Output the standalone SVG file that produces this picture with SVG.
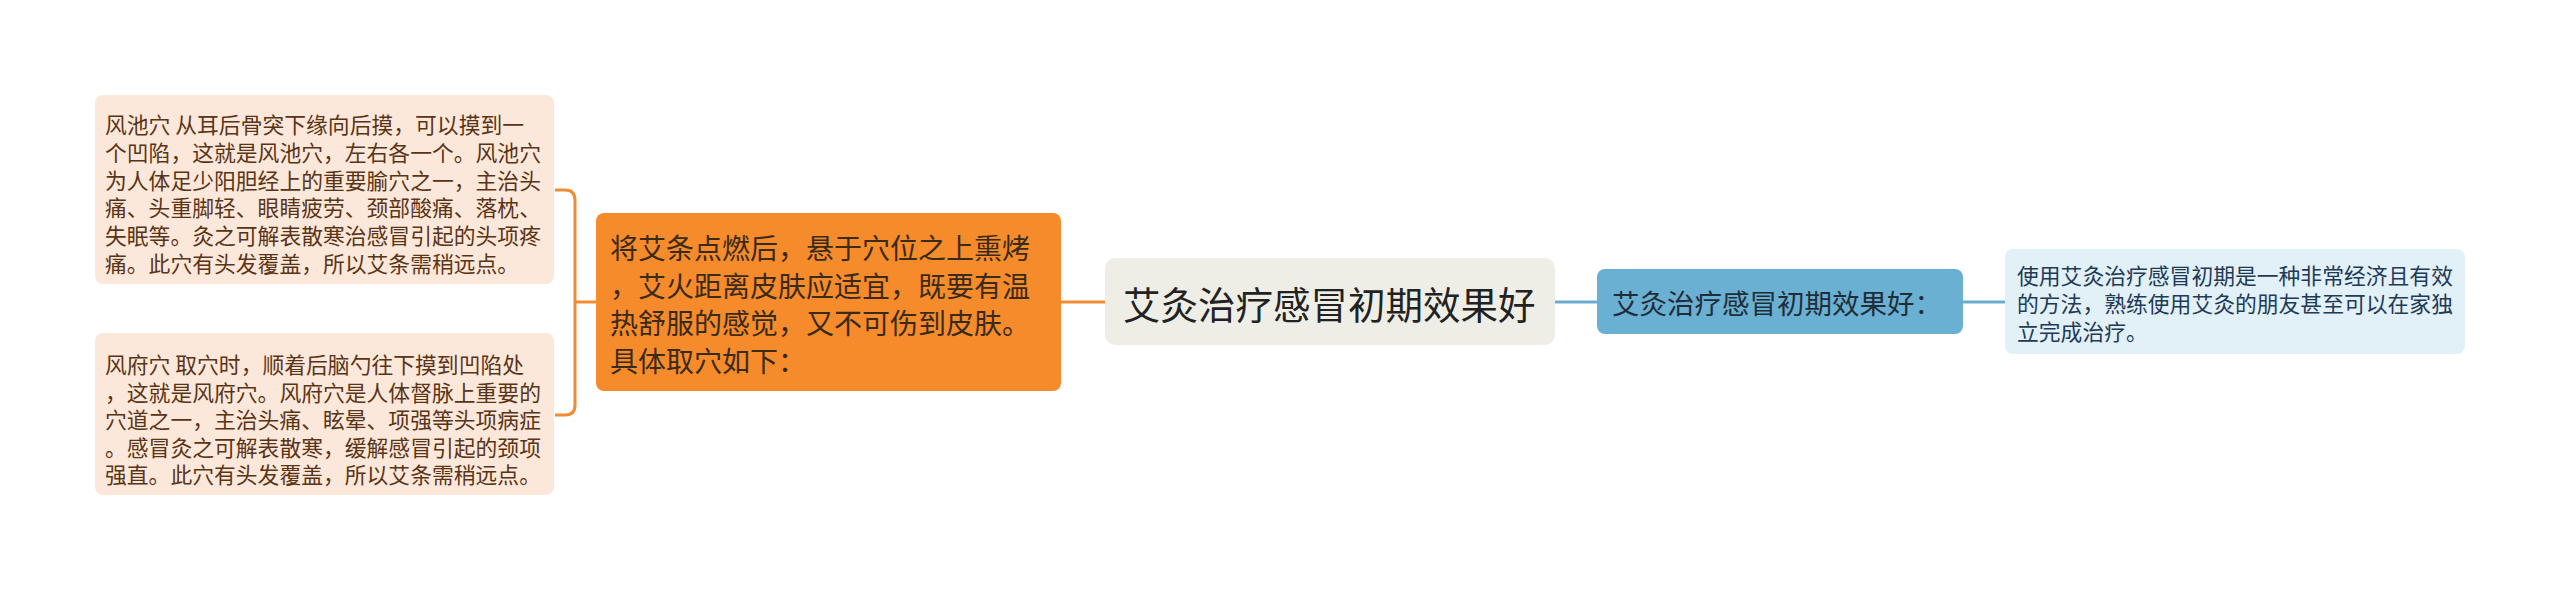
<svg xmlns="http://www.w3.org/2000/svg" width="2560" height="590" viewBox="0 0 2560 590">
<style>
text{font-family:"Noto Sans CJK SC","Noto Sans",sans-serif;dominant-baseline:central}
.leaf{fill:#fce8da}
.leaft{font-size:21.8px;fill:#5a3416}
.orange{fill:#f68b2c}
.oranget{font-size:28px;fill:#3a2a18}
.center{fill:#eeeee6}
.centert{font-size:37.5px;fill:#222222}
.blue{fill:#6ab0d3}
.bluet{font-size:27.5px;fill:#1f2d38}
.rleaf{fill:#e2f0f8}
.rleaft{font-size:21.8px;fill:#1e3a56}
.co{fill:none;stroke:#f08c35;stroke-width:3}
.cb{fill:none;stroke:#6badd0;stroke-width:3}
</style>
<rect width="2560" height="590" fill="#ffffff"/>
<g id="connectors">
<path class="co" d="M1061,302 H1105"/>
<path class="co" d="M596,302 H575"/>
<path class="co" d="M555,190 H565 Q575,190 575,200 V405 Q575,415 565,415 H555"/>
<path class="cb" d="M1555,302 H1597"/>
<path class="cb" d="M1963,302 H2005"/>
</g>
<g id="leaf1">
<rect class="leaf" x="95" y="95" width="459" height="189" rx="8"/>
<text class="leaft" x="105"><tspan x="105" y="123">风池穴 从耳后骨突下缘向后摸，可以摸到一</tspan><tspan x="105" y="151">个凹陷，这就是风池穴，左右各一个。风池穴</tspan><tspan x="105" y="179">为人体足少阳胆经上的重要腧穴之一，主治头</tspan><tspan x="105" y="206">痛、头重脚轻、眼睛疲劳、颈部酸痛、落枕、</tspan><tspan x="105" y="234">失眠等。灸之可解表散寒治感冒引起的头项疼</tspan><tspan x="105" y="262">痛。此穴有头发覆盖，所以艾条需稍远点。</tspan></text>
</g>
<g id="leaf2">
<rect class="leaf" x="95" y="333" width="459" height="162" rx="8"/>
<text class="leaft" x="105"><tspan x="105" y="363">风府穴 取穴时，顺着后脑勺往下摸到凹陷处</tspan><tspan x="105" y="391">，这就是风府穴。风府穴是人体督脉上重要的</tspan><tspan x="105" y="418">穴道之一，主治头痛、眩晕、项强等头项病症</tspan><tspan x="105" y="446">。感冒灸之可解表散寒，缓解感冒引起的颈项</tspan><tspan x="105" y="473">强直。此穴有头发覆盖，所以艾条需稍远点。</tspan></text>
</g>
<g id="method">
<rect class="orange" x="596" y="213" width="465" height="178" rx="8"/>
<text class="oranget" x="610"><tspan x="610" y="247">将艾条点燃后，悬于穴位之上熏烤</tspan><tspan x="610" y="285">，艾火距离皮肤应适宜，既要有温</tspan><tspan x="610" y="322">热舒服的感觉，又不可伤到皮肤。</tspan><tspan x="610" y="360">具体取穴如下：</tspan></text>
</g>
<g id="root">
<rect class="center" x="1105" y="258" width="450" height="87" rx="10"/>
<text class="centert" x="1123" y="302">艾灸治疗感冒初期效果好</text>
</g>
<g id="effect">
<rect class="blue" x="1597" y="269" width="366" height="65" rx="8"/>
<text class="bluet" x="1612" y="302">艾灸治疗感冒初期效果好：</text>
</g>
<g id="effect-detail">
<rect class="rleaf" x="2005" y="249" width="460" height="105" rx="8"/>
<text class="rleaft" x="2017"><tspan x="2017" y="274">使用艾灸治疗感冒初期是一种非常经济且有效</tspan><tspan x="2017" y="302">的方法，熟练使用艾灸的朋友甚至可以在家独</tspan><tspan x="2017" y="330">立完成治疗。</tspan></text>
</g>
</svg>
